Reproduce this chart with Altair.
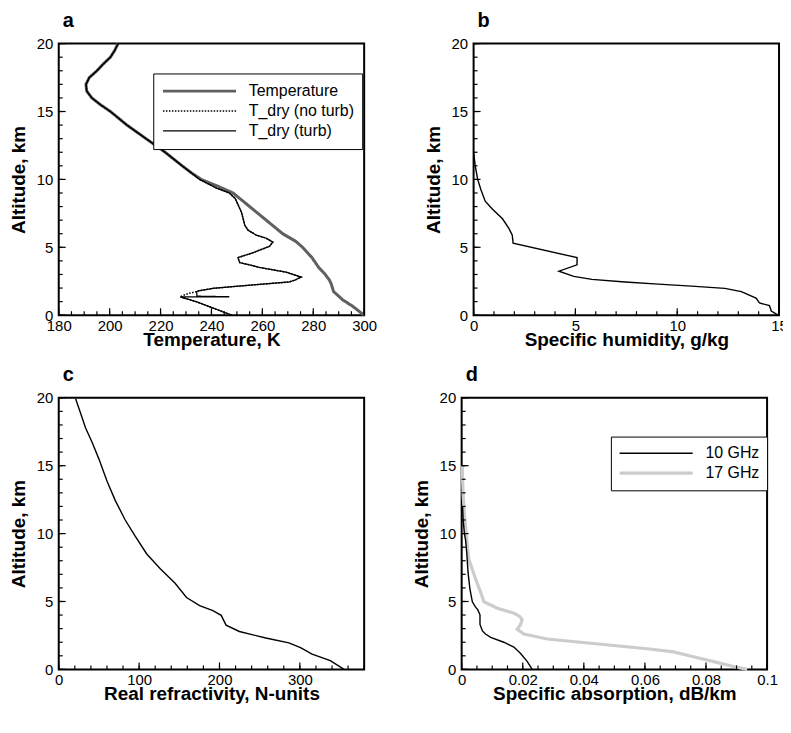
import altair as alt
import pandas as pd

FONT = "Liberation Sans"

# ---------------- Panel a : temperature profiles ----------------
UP_ALT = [20, 19.5, 19, 18.5, 18, 17.5, 17, 16.5, 16, 15.5, 15, 14, 13, 12, 11, 10.5]
UP_T = [203.3, 202.0, 200.3, 197.5, 195.0, 192.0, 190.7, 191.0, 193.0, 196.4, 200.3, 206.8, 214.3, 221.8, 228.5, 232.0]

TEMP_ALT = [10, 9.5, 9, 8, 7, 6, 5.43, 5, 4.24, 3.5, 3.05, 2.6, 2.33, 1.74, 1.4, 1.14, 0.67, 0]
TEMP_T = [236.0, 242.5, 248.5, 255.0, 261.5, 268.0, 273.2, 275.8, 279.5, 282.2, 284.5, 286.3, 287.0, 288.0, 290.0, 291.5, 295.4, 300.0]

DRY_ALT = [10, 9.6, 9.36, 9.0, 8.6, 8.29, 7.57, 7.0, 6.62, 6.26, 5.9, 5.67, 5.38, 5.07, 4.8, 4.6, 4.24,
           3.88, 3.52, 3.17, 2.81, 2.6, 2.45, 2.21, 1.98, 1.79, 1.74]
DRY_T = [235.3, 239.5, 242.0, 247.0, 249.3, 250.1, 251.8, 252.6, 253.1, 254.4, 257.6, 261.5, 264.1, 262.8, 259.0,
         256.3, 250.4, 251.1, 258.9, 269.3, 275.2, 273.0, 270.6, 255.0, 240.7, 234.8, 234.2]

NOTURB_ALT = [1.6, 1.45, 1.36, 1.0, 0.5, 0]
NOTURB_T = [231.0, 228.7, 227.8, 234.0, 241.0, 248.0]

TURB_ALT = [1.40, 1.36, 1.35, 1.34, 1.0, 0.5, 0]
TURB_T = [234.3, 247.0, 236.0, 227.7, 234.0, 241.0, 248.0]

SERIES_A = ["Temperature", "T_dry (no turb)", "T_dry (turb)"]
COLORS_A = ["#606060", "black", "black"]
DASH_A = [[1, 0], [1.5, 1.5], [1, 0]]
WIDTH_A = [3.0, 1.5, 1.3]

T_MAJOR = [180, 200, 220, 240, 260, 280, 300]
T_MINOR = [180 + 5 * i for i in range(25)]

# ---------------- Panel b : specific humidity ----------------
Q_ALT = [12.0, 11.0, 10.0, 9.24, 8.4, 7.81, 7.1, 6.38, 5.9, 5.31, 4.24, 3.71, 3.24, 2.86, 2.64, 2.45, 2.29,
         2.14, 1.98, 1.74, 1.26, 0.9, 0.71, 0.31, 0.0]
Q_VAL = [0.0, 0.08, 0.2, 0.36, 0.57, 0.93, 1.42, 1.74, 1.9, 1.94, 5.08, 5.08, 4.19, 4.92, 5.81, 7.44, 9.07,
         10.7, 12.34, 13.15, 13.87, 14.04, 14.53, 14.62, 14.95]
Q_MAJOR = [0, 5, 10, 15]
Q_MINOR = list(range(16))

# ---------------- Panel c : refractivity ----------------
N_ALT = [19.93, 18.86, 17.79, 16.71, 15.52, 13.86, 12.43, 11.0, 9.81, 8.5, 7.43, 6.36, 5.29, 4.69, 4.33, 3.98,
         3.26, 2.79, 2.31, 1.95, 1.6, 1.12, 0.64, 0.0]
N_VAL = [21.0, 27.2, 33.3, 41.6, 49.8, 60.1, 70.4, 82.7, 95.1, 109.5, 126.0, 144.5, 159.0, 175.3, 191.8, 202.1,
         208.2, 224.7, 257.6, 286.4, 300.8, 315.2, 337.9, 355.0]
N_MAJOR = [0, 100, 200, 300]
N_MINOR = [20 * i for i in range(20)]

# ---------------- Panel d : specific absorption ----------------
A10_ALT = [12, 11, 10, 9.5, 8.5, 7.12, 5.93, 4.98, 4.6, 4.38, 4.02, 3.31, 2.83, 2.6, 2.36, 2.0, 1.64, 1.17, 0.57, 0]
A10_VAL = [0.0003, 0.0005, 0.0009, 0.0013, 0.0017, 0.0021, 0.0027, 0.0035, 0.0045, 0.0053, 0.006, 0.006,
           0.0068, 0.0078, 0.0095, 0.0138, 0.0171, 0.0193, 0.0215, 0.0231]
A17_ALT = [15, 14, 12.83, 11.5, 10.45, 9, 8.07, 6.64, 5.69, 4.98, 4.5, 4.14, 3.9, 3.67, 3.31, 2.95, 2.6, 2.24,
           2.0, 1.76, 1.52, 1.29, 0.93, 0.57, 0.21, 0]
A17_VAL = [0.0002, 0.0003, 0.0005, 0.0009, 0.0013, 0.0019, 0.0024, 0.0046, 0.0062, 0.0073, 0.0117, 0.0171,
           0.019, 0.0198, 0.0193, 0.0182, 0.0204, 0.028, 0.0389, 0.0498, 0.0607, 0.0694, 0.0759, 0.0825,
           0.089, 0.0935]
SERIES_D = ["10 GHz", "17 GHz"]
COLORS_D = ["black", "#cccccc"]
WIDTH_D = [1.4, 3.2]
A_MAJOR = [0, 0.02, 0.04, 0.06, 0.08, 0.1]
A_MINOR = [round(0.005 * i, 3) for i in range(21)]

ALT_MAJOR = [0, 5, 10, 15, 20]
ALT_MINOR = list(range(21))

W, H = 307, 273


def frame(series, xs, alts):
    return pd.DataFrame({"series": series, "x": xs, "alt": alts, "i": list(range(len(xs)))})


dfa = pd.concat([
    frame("Temperature", UP_T + TEMP_T, UP_ALT + TEMP_ALT),
    frame("T_dry (no turb)", UP_T + DRY_T + NOTURB_T, UP_ALT + DRY_ALT + NOTURB_ALT),
    frame("T_dry (turb)", UP_T + DRY_T + TURB_T, UP_ALT + DRY_ALT + TURB_ALT),
], ignore_index=True)
dfb = frame("q", Q_VAL, Q_ALT)
dfc = frame("N", N_VAL, N_ALT)
dfd = pd.concat([frame("10 GHz", A10_VAL, A10_ALT), frame("17 GHz", A17_VAL, A17_ALT)], ignore_index=True)


def panel(xdomain, xtitle, xmajor, xminor, fmt, letter, line_layers):
    xs = alt.Scale(domain=xdomain, nice=False, zero=False)
    ys = alt.Scale(domain=[0, 20], nice=False, zero=False)
    ax = alt.Axis(values=xmajor, format=fmt, title=xtitle, ticks=False, domain=False, grid=False,
                  labelPadding=3, titlePadding=-3, labelFlush=False, labelOverlap=False)
    ay = alt.Axis(values=ALT_MAJOR, format="d", title="Altitude, km", ticks=False, domain=False,
                  grid=False, labelPadding=6, titlePadding=8, labelFlush=False)
    layers = []
    for l in line_layers:
        layers.append(l.encode(x=alt.X("x:Q", scale=xs, axis=ax), y=alt.Y("alt:Q", scale=ys, axis=ay),
                               order=alt.Order("i:Q")))
    for vals, size in ((xminor, 4), (xmajor, 7)):
        layers.append(alt.Chart(pd.DataFrame({"v": vals})).mark_rule(color="black", strokeWidth=1.2).encode(
            x=alt.X("v:Q", scale=xs, axis=ax), y=alt.value(H), y2=alt.value(H - size)))
    for vals, size in ((ALT_MINOR, 4), (ALT_MAJOR, 7)):
        layers.append(alt.Chart(pd.DataFrame({"v": vals})).mark_rule(color="black", strokeWidth=1.2).encode(
            y=alt.Y("v:Q", scale=ys, axis=ay), x=alt.value(0), x2=alt.value(size)))
    return alt.layer(*layers).properties(
        width=W, height=H,
        title=alt.Title(letter, anchor="start", frame="group", dx=4, offset=6, fontSize=20,
                        fontWeight="bold", font=FONT, color="black"))


def legend(x, y, pad):
    return alt.Legend(orient="none", legendX=x, legendY=y, title=None, symbolType="stroke",
                      symbolSize=5400, clipHeight=19.5, rowPadding=0, padding=pad, labelOffset=11,
                      labelFontSize=16, labelFont=FONT, labelColor="black", strokeColor="black",
                      fillColor="white", labelLimit=300)


leg_a = legend(95, 30, 8)


def enc_a(ch):
    return ch.encode(
        color=alt.Color("series:N", scale=alt.Scale(domain=SERIES_A, range=COLORS_A), legend=leg_a),
        strokeDash=alt.StrokeDash("series:N", scale=alt.Scale(domain=SERIES_A, range=DASH_A), legend=leg_a),
        strokeWidth=alt.StrokeWidth("series:N", scale=alt.Scale(type="ordinal", domain=SERIES_A, range=WIDTH_A),
                                    legend=leg_a))


layers_a = [enc_a(alt.Chart(dfa).mark_line().transform_filter(alt.datum.series == s)) for s in SERIES_A]
pa = panel([180, 300], "Temperature, K", T_MAJOR, T_MINOR, "d", "a", layers_a)

pb = panel([0, 15], "Specific humidity, g/kg", Q_MAJOR, Q_MINOR, "d", "b",
           [alt.Chart(dfb).mark_line(color="black", strokeWidth=1.4)])

pc = panel([0, 380], "Real refractivity, N-units", N_MAJOR, N_MINOR, "d", "c",
           [alt.Chart(dfc).mark_line(color="black", strokeWidth=1.4)])

leg_d = legend(150, 39, 7)


def enc_d(ch):
    return ch.encode(
        color=alt.Color("series:N", scale=alt.Scale(domain=SERIES_D, range=COLORS_D), legend=leg_d),
        strokeWidth=alt.StrokeWidth("series:N", scale=alt.Scale(type="ordinal", domain=SERIES_D, range=WIDTH_D),
                                    legend=leg_d))


layers_d = [enc_d(alt.Chart(dfd).mark_line().transform_filter(alt.datum.series == s)) for s in reversed(SERIES_D)]
pd_ = panel([0, 0.1], "Specific absorption, dB/km", A_MAJOR, A_MINOR, ".2~f", "d", layers_d)

IND = dict(color="independent", strokeDash="independent", strokeWidth="independent")

row1 = alt.hconcat(pa, pb, spacing=45).resolve_scale(**IND)
row2 = alt.hconcat(pc, pd_, spacing=45).resolve_scale(**IND)

chart = alt.vconcat(row1, row2, spacing=14).resolve_scale(**IND).properties(
    padding={"left": 0, "top": 0, "right": -6, "bottom": -1}
).configure_view(
    stroke="black", strokeWidth=2
).configure_axis(
    labelFont=FONT, labelFontSize=15, labelColor="black",
    titleFont=FONT, titleFontSize=19, titleFontWeight="bold", titleColor="black"
)

chart.save("out.html", embed_options={"renderer": "svg", "actions": False})
